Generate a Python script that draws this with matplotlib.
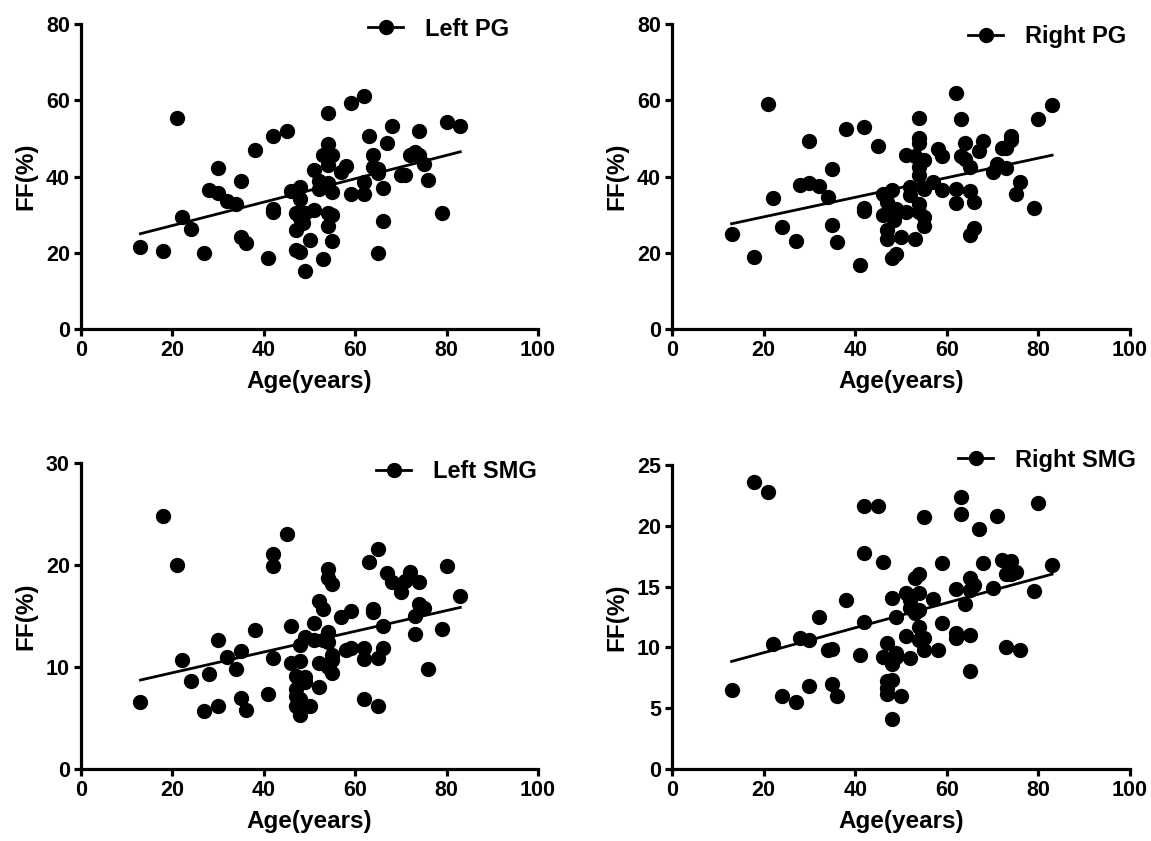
import matplotlib
matplotlib.use("Agg")
import matplotlib.pyplot as plt

plt.rcParams['font.family'] = ['Liberation Sans', 'DejaVu Sans']
plt.rcParams['font.weight'] = 'bold'

# Left PG
lpg_age = [13, 18, 21, 22, 24, 27, 28, 30, 30, 32, 34, 35, 35, 36, 38, 41, 42, 42, 42, 45,
           46, 47, 47, 47, 48, 48, 48, 48.5, 48, 49, 49, 50, 51, 51, 52, 52, 53, 53, 54, 54,
           54, 54, 54, 54, 55, 55, 55, 55, 57, 58, 59, 59, 62, 62, 62, 63, 64, 64, 65, 65,
           65, 66, 66, 67, 68, 70, 71, 72, 73, 74, 74, 75, 76, 79, 80, 83]
lpg_ff = [21.5, 20.4, 55.3, 29.3, 26.3, 20.0, 36.4, 42.1, 35.8, 33.5, 32.7, 38.9, 24.1, 22.5,
          46.9, 18.7, 50.6, 31.6, 30.7, 52.0, 36.1, 30.5, 25.9, 20.6, 37.3, 34.0, 20.2, 27.8,
          29.0, 30.3, 15.1, 23.4, 41.8, 31.1, 38.8, 36.8, 18.3, 45.6, 56.6, 48.5, 43.0, 38.3,
          30.3, 26.9, 45.6, 36.0, 30.0, 23.1, 41.2, 42.7, 59.4, 35.5, 61.2, 38.6, 35.4, 50.6,
          45.6, 42.5, 41.9, 40.8, 20.0, 37.0, 28.2, 48.9, 53.2, 40.4, 40.4, 45.6, 46.5, 45.6,
          51.9, 43.2, 39.2, 30.3, 54.4, 53.2]

# Right PG
rpg_age = [13, 18, 21, 22, 24, 27, 28, 30, 30, 32, 34, 35, 35, 36, 38, 41, 42, 42, 42, 45,
           46, 46, 47, 47, 47, 48, 48, 49, 48, 48.5, 49, 50, 51, 51, 52, 52, 53, 53, 54, 54,
           54, 54, 54, 54, 54, 55, 55, 55, 55, 57, 58, 59, 59, 62, 62, 62, 63, 63, 64, 64,
           65, 65, 65, 66, 66, 67, 68, 70, 71, 72, 73, 73, 74, 74, 75, 76, 79, 80, 83]
rpg_ff = [25.0, 18.9, 59.0, 34.4, 26.8, 23.2, 37.7, 38.2, 49.4, 37.5, 34.5, 41.9, 27.2, 22.8,
          52.4, 16.7, 53.1, 31.8, 31.0, 48.0, 35.4, 29.8, 25.9, 23.7, 33.3, 36.4, 18.6, 19.6,
          30.3, 28.5, 31.6, 24.1, 30.7, 45.6, 37.3, 35.1, 23.7, 45.4, 55.3, 50.0, 48.7, 42.5,
          40.4, 32.9, 30.7, 44.3, 36.8, 29.4, 27.0, 38.6, 47.1, 45.4, 36.4, 61.8, 36.6, 33.1,
          55.1, 45.4, 48.7, 44.7, 42.5, 36.2, 24.6, 33.3, 26.5, 46.7, 49.3, 41.2, 43.2, 47.4,
          47.4, 42.1, 50.6, 49.6, 35.5, 38.6, 31.8, 55.1, 58.8]

# Left SMG
lsmg_age = [13, 18, 21, 22, 24, 27, 28, 30, 30, 32, 34, 35, 35, 36, 38, 41, 42, 42, 42, 45,
            46, 46, 47, 47, 47, 47, 48, 48, 48, 48, 49, 49, 49, 50, 51, 51, 52, 52, 52, 53,
            53, 54, 54, 54, 54, 54, 55, 55, 55, 55, 57, 58, 59, 59, 62, 62, 62, 63, 64, 64,
            65, 65, 65, 66, 66, 67, 68, 70, 71, 72, 73, 73, 74, 74, 75, 76, 79, 80, 83]
lsmg_ff = [6.6, 24.8, 20.0, 10.7, 8.6, 5.7, 9.3, 12.6, 6.2, 11.0, 9.8, 11.6, 7.0, 5.8, 13.6,
           7.4, 21.1, 19.9, 10.9, 23.0, 14.0, 10.4, 9.1, 7.8, 7.2, 6.2, 12.2, 10.6, 6.9, 5.3,
           12.9, 9.0, 8.5, 6.2, 14.3, 12.6, 16.5, 10.4, 8.0, 15.7, 12.6, 19.6, 18.7, 13.4, 12.5,
           10.0, 18.1, 11.2, 10.7, 9.4, 14.9, 11.7, 15.5, 11.9, 11.9, 10.8, 6.9, 20.3, 15.7, 15.4,
           21.6, 10.9, 6.2, 14.0, 11.9, 19.2, 18.3, 17.4, 18.4, 19.3, 15.0, 13.2, 18.3, 16.2,
           15.8, 9.8, 13.7, 19.9, 17.0]

# Right SMG
rsmg_age = [13, 18, 21, 22, 24, 27, 28, 30, 30, 32, 34, 35, 35, 36, 38, 41, 42, 42, 42, 45,
            46, 46, 47, 47, 47, 47, 48, 48, 48, 48, 49, 49, 49, 50, 51, 51, 52, 52, 52, 53,
            53, 54, 54, 54, 54, 54, 55, 55, 55, 57, 58, 59, 59, 62, 62, 62, 63, 63, 64, 65,
            65, 65, 65, 66, 67, 68, 70, 71, 72, 73, 73, 74, 74, 75, 76, 79, 80, 83]
rsmg_ff = [6.5, 23.6, 22.8, 10.3, 6.0, 5.5, 10.8, 10.6, 6.8, 12.5, 9.8, 9.9, 7.0, 6.0, 13.9,
           9.4, 21.6, 17.8, 12.1, 21.6, 17.0, 9.2, 10.4, 7.2, 6.7, 6.2, 14.1, 8.6, 7.3, 4.1,
           12.5, 9.5, 9.2, 6.0, 14.5, 10.9, 13.9, 9.1, 13.2, 15.7, 12.8, 16.0, 14.5, 11.7, 10.6,
           13.1, 20.7, 10.8, 9.8, 14.0, 9.8, 16.9, 12.0, 14.8, 11.2, 10.8, 22.4, 21.0, 13.6,
           15.7, 14.7, 11.0, 8.1, 15.1, 19.7, 16.9, 14.9, 20.8, 17.2, 16.0, 10.0, 17.1, 16.0,
           16.2, 9.8, 14.6, 21.9, 16.8]

# regression lines (slope, intercept)
fit_slope = [0.307, 0.257, 0.1017, 0.1026]
fit_intercept = [21.0, 24.26, 7.40, 7.51]
fit_x = [13, 83]

names = ["Left PG", "Right PG", "Left SMG", "Right SMG"]
ages = [lpg_age, rpg_age, lsmg_age, rsmg_age]
values = [lpg_ff, rpg_ff, lsmg_ff, rsmg_ff]
y_max = [80, 80, 30, 25]
y_step = [20, 20, 10, 5]

W, H = 1151, 841
fig = plt.figure(figsize=(W / 100, H / 100), dpi=100)

# axes boxes in pixels: left, top, right, bottom
boxes = [(81, 24, 538, 329), (672, 24, 1130, 329),
         (81, 463, 538, 769), (672, 465, 1130, 769)]
# legend anchor (pixels): start of handle, vertical centre
leg_pos = [(368, 29), (968, 37), (376, 472), (958, 460)]

for i in range(4):
    l, t, r, b = boxes[i]
    ax = fig.add_axes([l / W, 1 - b / H, (r - l) / W, (b - t) / H])
    ax.plot(ages[i], values[i], 'o', color='black', ms=10, clip_on=False,
            label=names[i])
    fy = [fit_slope[i] * x + fit_intercept[i] for x in fit_x]
    ax.plot(fit_x, fy, '-', color='black', lw=2)

    ax.set_xlim(0, 100)
    ax.set_ylim(0, y_max[i])
    ax.set_xticks(range(0, 101, 20))
    ax.set_yticks(range(0, y_max[i] + 1, y_step[i]))
    ax.spines['top'].set_visible(False)
    ax.spines['right'].set_visible(False)
    ax.spines['left'].set_linewidth(2.3)
    ax.spines['bottom'].set_linewidth(2.3)
    ax.tick_params(width=2.3, length=5, labelsize=15.5, pad=3)
    for lab in ax.get_xticklabels() + ax.get_yticklabels():
        lab.set_fontweight('bold')

    ax.set_xlabel("Age(years)", fontsize=17.5, fontweight='bold')
    ax.set_ylabel("FF(%)", fontsize=17.5, fontweight='bold')
    ax.xaxis.set_label_coords(0.5, -0.135)
    ax.yaxis.set_label_coords(-0.095, 0.5)

    # legend: line with marker
    h, = ax.plot([], [], '-o', color='black', ms=10, lw=2)
    lx, ly = leg_pos[i]
    ax.legend([h], [names[i]], loc='center left', bbox_to_anchor=(lx / W, 1 - ly / H),
              bbox_transform=fig.transFigure, frameon=False, borderpad=0,
              borderaxespad=0, handlelength=1.5, handletextpad=0.9,
              prop={'size': 17, 'weight': 'bold'})

fig.savefig("out.png", dpi=100)
